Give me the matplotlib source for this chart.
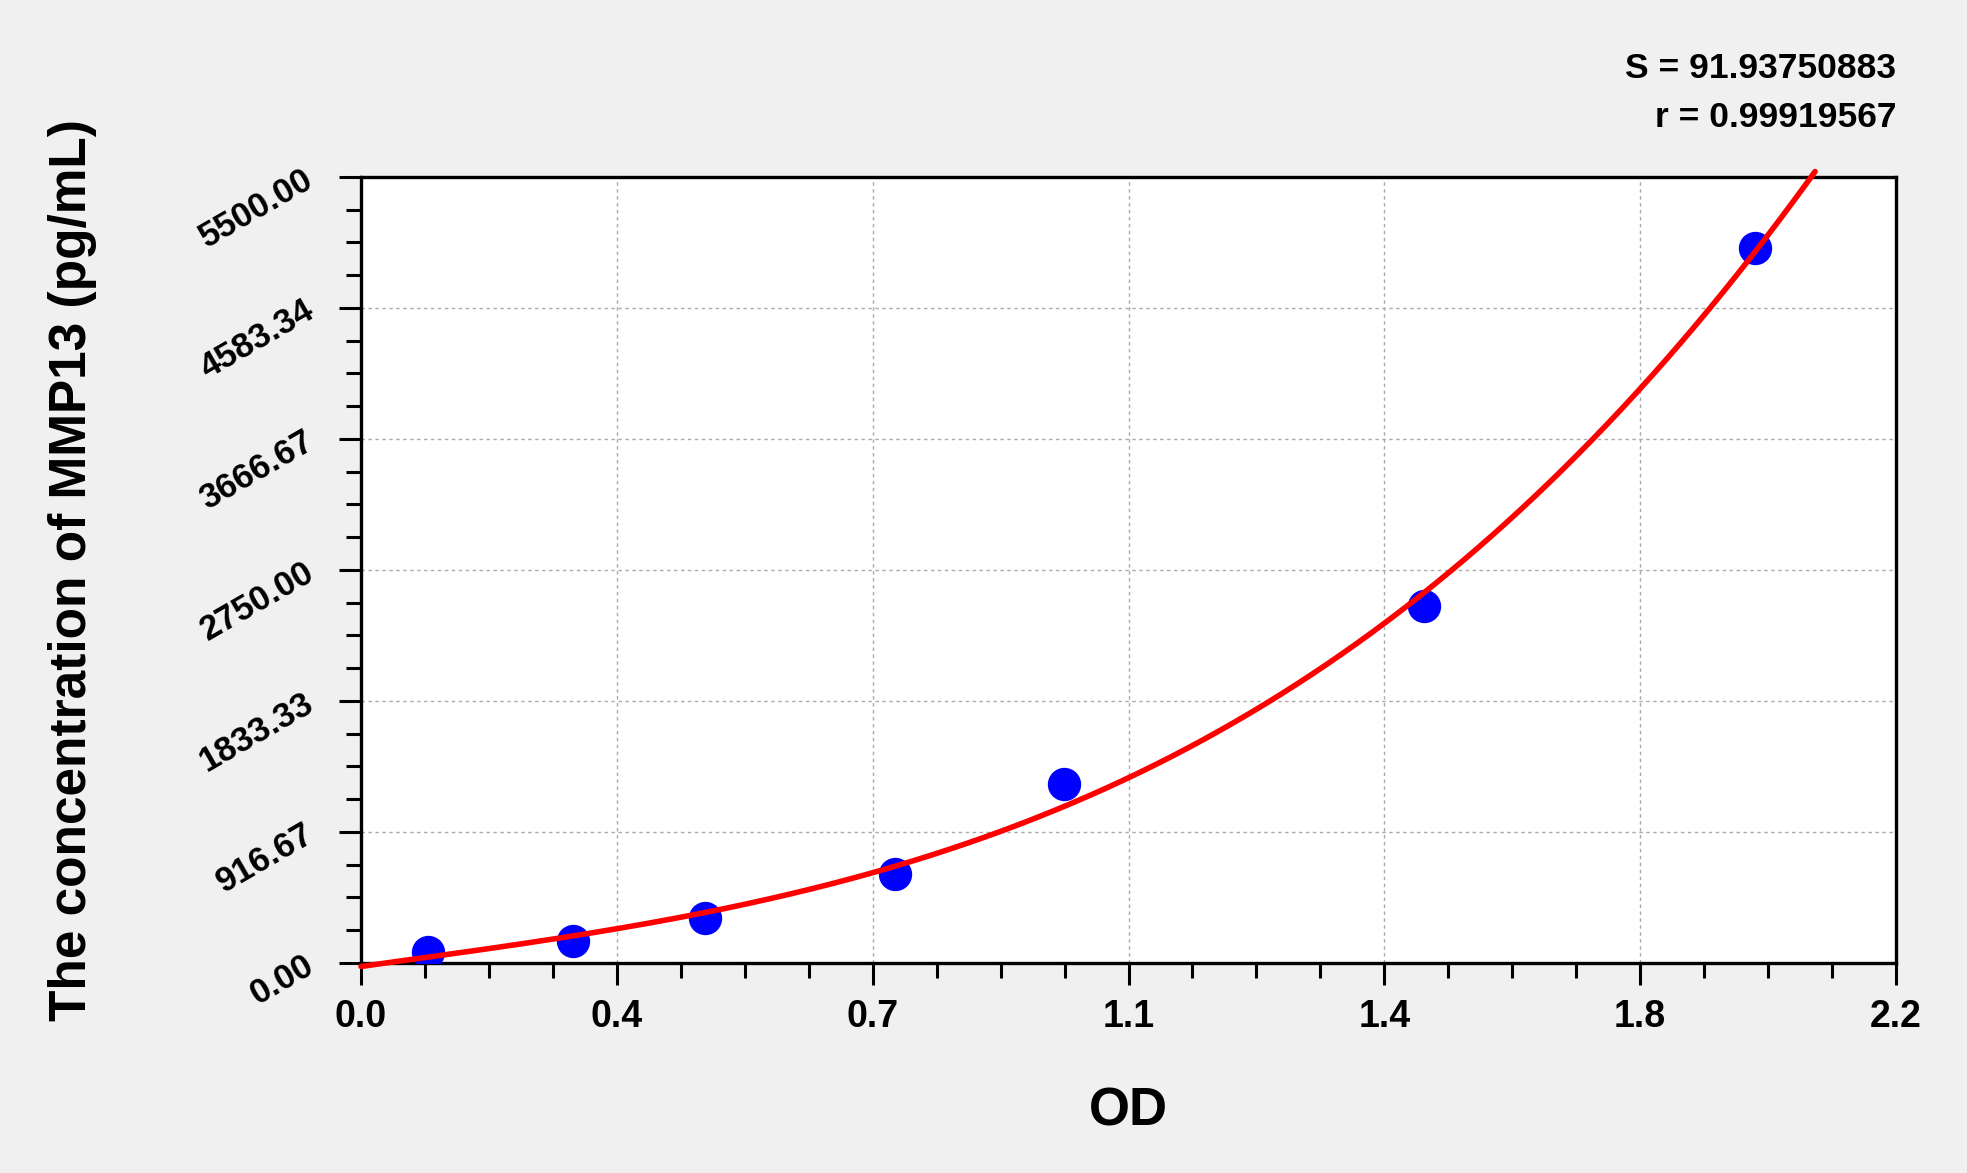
import numpy as np
import matplotlib
matplotlib.use("Agg")
import matplotlib.pyplot as plt
from matplotlib.ticker import AutoMinorLocator, FixedLocator

# ---- data ----
od = [0.096, 0.304, 0.493, 0.765, 1.008, 1.523, 1.998]
conc = [78.125, 156.25, 312.5, 625.0, 1250.0, 2500.0, 5000.0]

x_ticks = [0.0, 0.36667, 0.73333, 1.1, 1.46667, 1.83333, 2.2]
x_tick_labels = ["0.0", "0.4", "0.7", "1.1", "1.4", "1.8", "2.2"]
y_ticks = [0.0, 916.67, 1833.33, 2750.0, 3666.67, 4583.34, 5500.0]
y_tick_labels = ["0.00", "916.67", "1833.33", "2750.00", "3666.67", "4583.34", "5500.00"]

stat_lines = ["S = 91.93750883", "r = 0.99919567"]
x_label = "OD"
y_label = "The concentration of MMP13 (pg/mL)"

plt.rcParams["font.family"] = ["Liberation Sans", "DejaVu Sans"]
plt.rcParams["font.weight"] = "bold"

W, H = 1967, 1173
fig = plt.figure(figsize=(W / 100, H / 100), dpi=100)
fig.patch.set_facecolor("#f0f0f0")

L, R, T, B = 361, 1896, 177, 963
ax = fig.add_axes([L / W, 1 - B / H, (R - L) / W, (B - T) / H])
ax.set_facecolor("white")

ax.set_xlim(0, 2.2)
ax.set_ylim(0, 5500)

# fitted calibration curve (least-squares cubic through the standards)
coef = np.polyfit(od, conc, 3)
xs = np.linspace(0, 2.2, 1500)
ys = np.polyval(coef, xs)
keep = ys <= 5540
ax.plot(xs[keep], ys[keep], color="#ff0000", lw=4.0, zorder=4, clip_on=False,
        solid_capstyle="round")

ax.plot(od, conc, linestyle="none", marker="o", markersize=23,
        markerfacecolor="#0000ff", markeredgecolor="#0000ff", zorder=3)

ax.xaxis.set_major_locator(FixedLocator(x_ticks))
ax.yaxis.set_major_locator(FixedLocator(y_ticks))
ax.set_xticklabels(x_tick_labels)
ax.set_yticklabels(y_tick_labels)
ax.xaxis.set_minor_locator(AutoMinorLocator(4))
ax.yaxis.set_minor_locator(AutoMinorLocator(4))

ax.grid(True, which="major", color="#aaaaaa", linestyle=(0, (2.5, 2.5)), lw=1.0, zorder=1)

for s in ax.spines.values():
    s.set_linewidth(2.4)
    s.set_color("black")

ax.tick_params(axis="both", which="major", direction="out", length=16, width=2.2,
               color="black")
ax.tick_params(axis="both", which="minor", direction="out", length=11, width=2.2,
               color="black")
ax.tick_params(axis="x", which="major", labelsize=27, pad=10)
ax.tick_params(axis="y", which="major", labelsize=25, pad=20)

for lbl in ax.get_xticklabels():
    lbl.set_fontweight("bold")
for lbl in ax.get_yticklabels():
    lbl.set_fontweight("bold")
    lbl.set_rotation(30)
    lbl.set_rotation_mode("anchor")
    lbl.set_ha("right")
    lbl.set_va("center")

ax.set_xlabel(x_label, fontsize=38, fontweight="bold")
ax.set_ylabel(y_label, fontsize=37, fontweight="bold")
ax.xaxis.set_label_coords(0.5, (B - 1111) / (B - T))
ax.xaxis.label.set_va("center")
ax.yaxis.set_label_coords((72 - L) / (R - L), 0.5)
ax.yaxis.label.set_va("center")

fig.text(R / W, 1 - 78 / H, stat_lines[0], ha="right", va="baseline",
         fontsize=25.5, fontweight="bold")
fig.text(R / W, 1 - 127 / H, stat_lines[1], ha="right", va="baseline",
         fontsize=25.5, fontweight="bold")

fig.savefig("out.png", dpi=100, facecolor=fig.get_facecolor())
